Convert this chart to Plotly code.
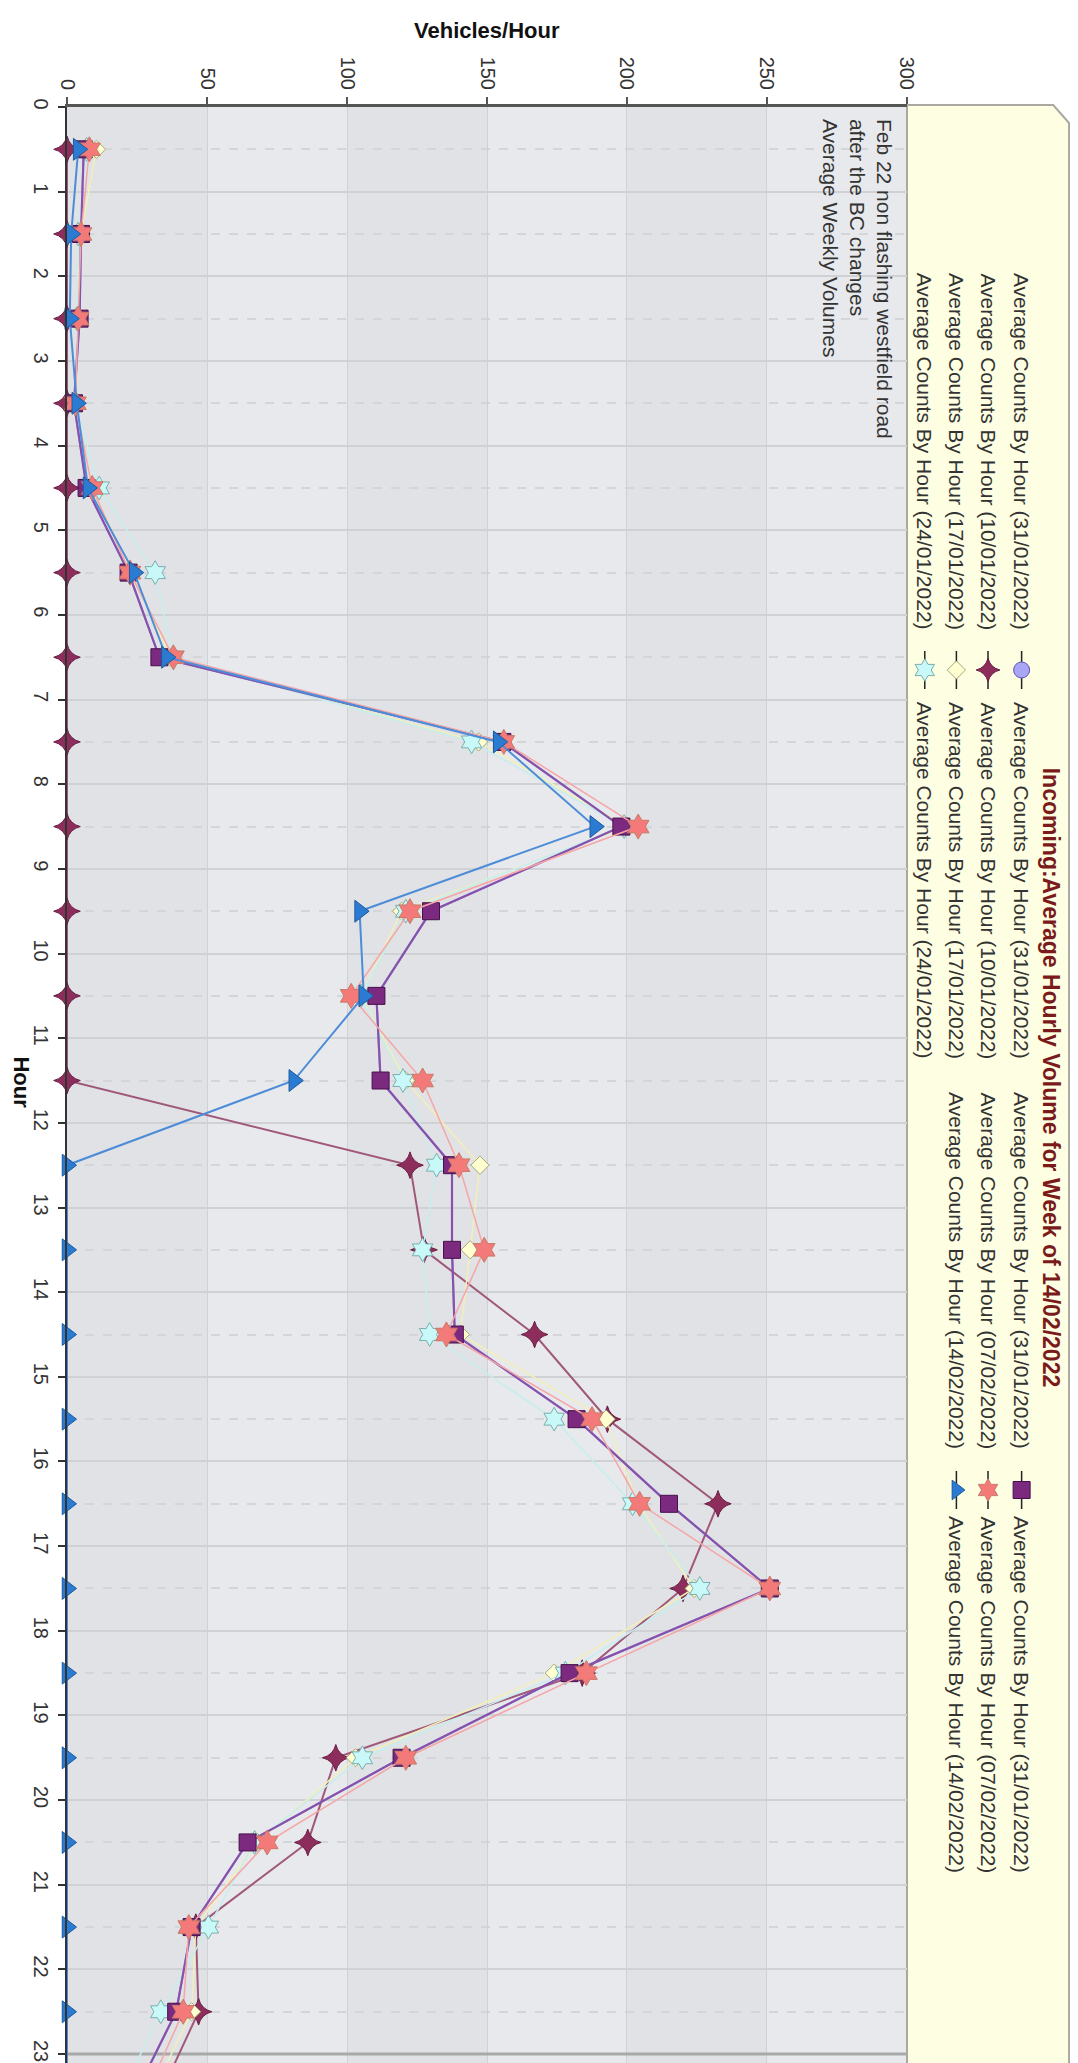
import plotly.graph_objects as go

# ---------------- data ----------------
hours = [0.5, 1.5, 2.5, 3.5, 4.5, 5.5, 6.5, 7.5, 8.5, 9.5, 10.5, 11.5,
         12.5, 13.5, 14.5, 15.5, 16.5, 17.5, 18.5, 19.5, 20.5, 21.5, 22.5, 23.5]

counts_3101_a = [6, 5, 4.5, 2.5, 7, 22, 33, 155.5, 198, 130, 110.5, 112,
                 137.5, 137.5, 138.5, 182, 215, 251, 179.5, 119.5, 64.5, 44.5, 39, 24]
counts_1001 = [0, 0, 0, 0, 0, 0, 0, 0, 0, 0, 0, 0,
               122.5, 127.5, 167, 193, 232.5, 220, 184, 96, 86, 46, 47, 33]
counts_1701 = [10.5, 5, 4, 3, 9, 23, 37, 147, 200, 119.5, 105, 121,
               147.5, 144, 140.5, 192.5, 204, 224, 174, 103, 68, 46, 44.5, 30]
counts_2401 = [7, 4, 3.5, 3, 11.5, 31.5, 38, 144.5, 199, 121, 105, 120,
               132, 127, 129.5, 174, 202, 226, 178, 105.5, 67, 50.5, 33.5, 19]
counts_3101_b = [6, 5, 4.5, 2.5, 7, 22, 33, 155.5, 198, 130, 110.5, 112,
                 137.5, 137.5, 138.5, 182, 215, 251, 179.5, 119.5, 64.5, 44.5, 39, 24]
counts_0702 = [8, 5, 4, 3, 9, 22.5, 38, 156, 204, 122.5, 101.5, 127,
               140, 149, 135.5, 187.5, 204.5, 251, 185.5, 121, 71.5, 43.5, 41.5, 28]
counts_1402 = [4, 1.5, 1, 3.5, 7.5, 24, 35.5, 154, 188.5, 104.5, 106, 81,
               0, 0, 0, 0, 0, 0, 0, 0, 0, 0, 0, 0]

series_names = ["Average Counts By Hour (31/01/2022)", "Average Counts By Hour (10/01/2022)",
                "Average Counts By Hour (17/01/2022)", "Average Counts By Hour (24/01/2022)",
                "Average Counts By Hour (31/01/2022)", "Average Counts By Hour (07/02/2022)",
                "Average Counts By Hour (14/02/2022)"]
series_values = [counts_3101_a, counts_1001, counts_1701, counts_2401,
                 counts_3101_b, counts_0702, counts_1402]

vehicle_ticks = [0, 50, 100, 150, 200, 250, 300]
hour_ticks = list(range(0, 24))

title_text = "Incoming:Average Hourly Volume for Week of 14/02/2022"
note_text = "Feb 22 non flashing westfield road<br>after the BC changes<br>Average Weekly Volumes"

# ---------------- styles ----------------
styles = [
    dict(symbol="circle", size=16, fill="#a9a6f5", edge="#5a55b0", line="#9a96e8", lw=2),
    dict(symbol="star-diamond", size=19, fill="#8c2d5c", edge="#6a1f45", line="#a0587a", lw=2),
    dict(symbol="diamond", size=14, fill="#ffffd2", edge="#a8a878", line="#f2efb8", lw=1.5),
    dict(symbol="hexagram", size=18, fill="#c8f8f8", edge="#7aaeae", line="#c6eeee", lw=1.5),
    dict(symbol="square", size=17, fill="#7b2a80", edge="#47104a", line="#8652ab", lw=2.2),
    dict(symbol="hexagram", size=19, fill="#f47a7a", edge="#c77b66", line="#f5a5a5", lw=1.5),
    dict(symbol="triangle-right", size=19, fill="#2c7bd2", edge="#1d5a9c", line="#4d8cd8", lw=2),
]

W, H = 1078, 2063
L, T = 59, 99
PW, PH = W - L, H - T
PLOT_R = 909


def px(xp):
    return (xp - L) / PW


def py(yp):
    return 1 - (yp - T) / PH


fig = go.Figure()

for name, vals, st in zip(series_names, series_values, styles):
    fig.add_trace(go.Scatter(
        x=vals, y=hours, mode="lines+markers", name=name,
        line=dict(color=st["line"], width=st["lw"]),
        marker=dict(symbol=st["symbol"], size=st["size"], color=st["fill"],
                    line=dict(color=st["edge"], width=1)),
        cliponaxis=False, showlegend=False, hoverinfo="skip",
    ))

# ---------------- custom legend (rotated) ----------------
row_x = [1025, 991, 959, 927]
legend_layout = [  # (row, col, style index, label index)
    (0, 0, 0, 0), (0, 1, 4, 4),
    (1, 0, 1, 1), (1, 1, 5, 5),
    (2, 0, 2, 2), (2, 1, 6, 6),
    (3, 0, 3, 3),
]
marker_y = [662, 1482]
text_y = [(263, 692), (1082, 1506)]

seg_x, seg_y = [], []
for r, c, si, li in legend_layout:
    seg_x += [row_x[r], row_x[r], None]
    seg_y += [marker_y[c] - 19, marker_y[c] + 19, None]
fig.add_trace(go.Scatter(x=seg_x, y=seg_y, xaxis="x2", yaxis="y2", mode="lines",
                         line=dict(color="#222222", width=1.5), showlegend=False,
                         hoverinfo="skip", cliponaxis=False))
for r, c, si, li in legend_layout:
    st = styles[si]
    fig.add_trace(go.Scatter(x=[row_x[r]], y=[marker_y[c]], xaxis="x2", yaxis="y2",
                             mode="markers",
                             marker=dict(symbol=st["symbol"], size=min(st["size"], 17),
                                         color=st["fill"], line=dict(color=st["edge"], width=1)),
                             showlegend=False, hoverinfo="skip", cliponaxis=False))

annotations = []
for r, c, si, li in legend_layout:
    for ty in text_y[c]:
        annotations.append(dict(
            text=series_names[li], x=px(row_x[r]), y=py(ty), xref="paper", yref="paper",
            xanchor="center", yanchor="top", textangle=90, showarrow=False,
            font=dict(family="Liberation Sans, Arial", size=21, color="#333333")))

annotations.append(dict(
    text="<b>" + title_text + "</b>", x=px(1055), y=py(1070), xref="paper", yref="paper",
    xanchor="center", yanchor="middle", textangle=90, showarrow=False,
    font=dict(family="Liberation Sans, Arial", size=23, color="#7a1a1a")))

annotations.append(dict(
    text=note_text, x=px(900), y=py(109), xref="paper", yref="paper",
    xanchor="right", yanchor="top", textangle=90, showarrow=False, align="left",
    font=dict(family="Liberation Sans, Arial", size=21, color="#333333")))

annotations.append(dict(
    text="<b>Vehicles/Hour</b>", x=px(484), y=py(22), xref="paper", yref="paper",
    xanchor="center", yanchor="middle", showarrow=False,
    font=dict(family="Liberation Sans, Arial", size=22, color="#111111")))

annotations.append(dict(
    text="<b>Hour</b>", x=px(13), y=py(1074), xref="paper", yref="paper",
    xanchor="center", yanchor="middle", textangle=90, showarrow=False,
    font=dict(family="Liberation Sans, Arial", size=22, color="#111111")))

# ---------------- background shapes ----------------
shapes = [
    dict(type="rect", xref="paper", yref="paper", x0=0, x1=px(PLOT_R), y0=0, y1=1,
         fillcolor="#e7e9ec", line=dict(width=0), layer="below"),
    dict(type="path", xref="paper", yref="paper",
         path=f"M {px(PLOT_R)},{py(97)} L {px(1057)},{py(97)} L {px(1073)},{py(115)} "
              f"L {px(1073)},{py(2075)} L {px(PLOT_R)},{py(2075)} Z",
         fillcolor="#fefee2", line=dict(color="#a9a9a2", width=2), layer="below"),
]
for i in range(0, len(vehicle_ticks) - 1, 2):
    shapes.append(dict(type="rect", xref="x", yref="paper",
                       x0=vehicle_ticks[i], x1=vehicle_ticks[i + 1], y0=0, y1=1,
                       fillcolor="#e1e2e5", line=dict(width=0), layer="below"))
shapes.append(dict(type="line", xref="x", yref="y", x0=0, x1=300, y0=23, y1=23,
                   line=dict(color="#a8a8a8", width=3), layer="between"))

fig.update_layout(
    width=W, height=H, autosize=False,
    margin=dict(l=L, r=0, t=T, b=0, pad=0),
    paper_bgcolor="white", plot_bgcolor="rgba(0,0,0,0)",
    showlegend=False,
    font=dict(family="Liberation Sans, Arial", color="#333333"),
    xaxis=dict(domain=[0, px(PLOT_R)], range=[0, 300], side="top",
               tickvals=vehicle_ticks, tickangle=90, ticks="outside", ticklen=7,
               tickwidth=1.5, tickcolor="#555555", showline=True, linewidth=3,
               linecolor="#555555", showgrid=True, gridcolor="#cfd1d4", gridwidth=1,
               zeroline=False, tickfont=dict(size=20, color="#333333"), anchor="y"),
    yaxis=dict(range=[23.2, 0], tickvals=hour_ticks, tickangle=90, ticks="outside",
               ticklen=7, tickwidth=1.5, tickcolor="#333333", showline=True, linewidth=2,
               linecolor="#333333", showgrid=True, gridcolor="#cfd1d5", gridwidth=2,
               zeroline=False, tickfont=dict(size=20, color="#333333"), anchor="x",
               minor=dict(tick0=0.5, dtick=1, showgrid=True, gridcolor="#d3d5d9",
                          griddash="dash", gridwidth=1.5, ticks="")),
    xaxis2=dict(domain=[px(PLOT_R), 1], range=[PLOT_R, W], visible=False, anchor="y2",
                fixedrange=True),
    yaxis2=dict(domain=[0, 1], range=[H, T], visible=False, anchor="x2", fixedrange=True),
    shapes=shapes,
    annotations=annotations,
)

fig.write_html("out.html")
